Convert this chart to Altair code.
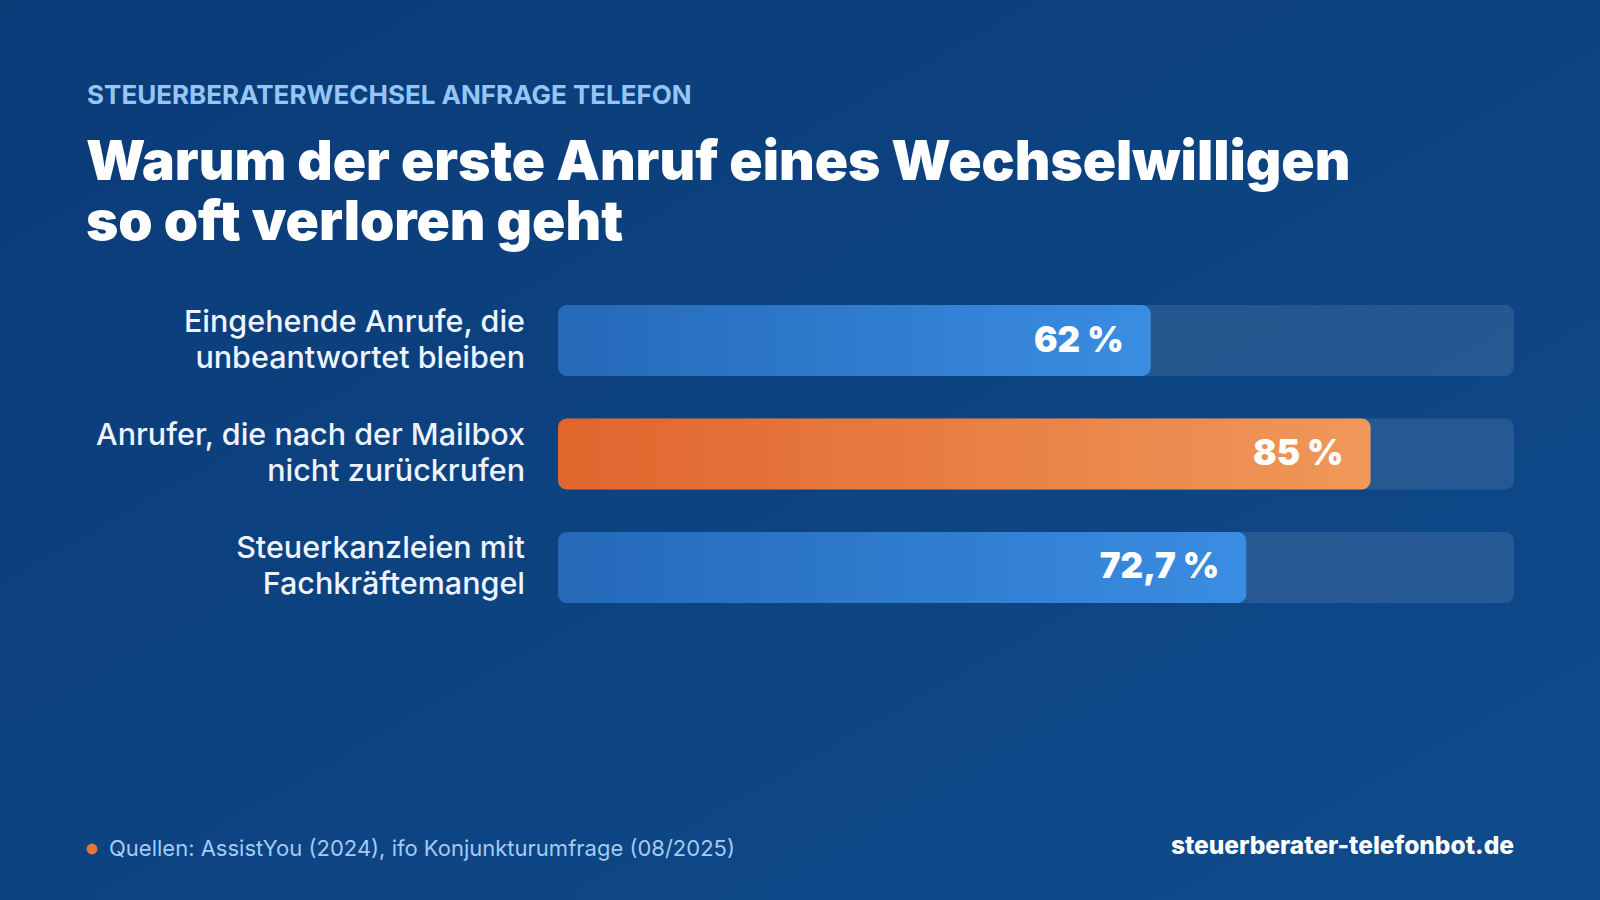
import altair as alt
import pandas as pd

# ---- data ----
categories = [
    "Eingehende Anrufe, die\nunbeantwortet bleiben",
    "Anrufer, die nach der Mailbox\nnicht zurückrufen",
    "Steuerkanzleien mit\nFachkräftemangel",
]
values = [62, 85, 72]          # bar lengths as drawn
value_labels = ["62 %", "85 %", "72,7 %"]
highlight = [False, True, False]

kicker = "STEUERBERATERWECHSEL ANFRAGE TELEFON"
title_lines = ["Warum der erste Anruf eines Wechselwilligen", "so oft verloren geht"]
source_text = "Quellen: AssistYou (2024), ifo Konjunkturumfrage (08/2025)"
site_text = "steuerberater-telefonbot.de"

df = pd.DataFrame({
    "cat": categories,
    "value": values,
    "vlabel": value_labels,
    "hl": highlight,
    "zero": [0] * 3,
    "full": [100] * 3,
})
one = pd.DataFrame({"k": [0]})

FONT = "Inter"
W, H = 1600, 900

xscale = alt.Scale(domain=[0, 100], range=[558, 1514])
yscale = alt.Scale(domain=categories, range=[305, 603], paddingInner=0.374, paddingOuter=0)

X = lambda f: alt.X(f, type="quantitative", scale=xscale, axis=None)
Y = alt.Y("cat:N", sort=categories, scale=yscale, axis=None)

bg = alt.Chart(one).mark_rect(
    fill=alt.Gradient(
        gradient="linear", x1=0, y1=0, x2=1, y2=1,
        stops=[alt.GradientStop(color="#0b3b77", offset=0),
               alt.GradientStop(color="#0f4b8c", offset=1)],
    )
).encode(x=alt.value(0), x2=alt.value(W), y=alt.value(0), y2=alt.value(H))

track = alt.Chart(df).mark_bar(cornerRadius=9, color="#ffffff", opacity=0.1).encode(
    x=X("zero"), x2="full:Q", y=Y
)

blue_bars = alt.Chart(df).transform_filter("!datum.hl").mark_bar(
    cornerRadius=9,
    color=alt.Gradient(
        gradient="linear", x1=0, y1=0, x2=1, y2=0,
        stops=[alt.GradientStop(color="#2569b8", offset=0),
               alt.GradientStop(color="#3a8de2", offset=1)],
    ),
).encode(x=X("zero"), x2="value:Q", y=Y)

orange_bars = alt.Chart(df).transform_filter("datum.hl").mark_bar(
    cornerRadius=9,
    color=alt.Gradient(
        gradient="linear", x1=0, y1=0, x2=1, y2=0,
        stops=[alt.GradientStop(color="#e0652d", offset=0),
               alt.GradientStop(color="#f0985a", offset=1)],
    ),
).encode(x=X("zero"), x2="value:Q", y=Y)

vtext = alt.Chart(df).mark_text(
    align="right", baseline="middle", dx=-27, font=FONT, fontWeight=900,
    fontSize=35, color="#ffffff",
).encode(x=X("value"), y=Y, text="vlabel:N")

ylabels = alt.Chart(df).mark_text(
    align="right", baseline="middle", lineBreak="\n", lineHeight=36, dy=-18,
    font=FONT, fontWeight=500, fontSize=30.5, color="#eef4ff",
).encode(x=alt.value(525), y=Y, text="cat:N")

kicker_t = alt.Chart(one).mark_text(
    text=kicker, align="left", baseline="alphabetic", font=FONT, fontWeight=700,
    fontSize=26, color="#94c6f5",
).encode(x=alt.value(87), y=alt.value(104))

title_t = alt.Chart(one).mark_text(
    text=title_lines, align="left", baseline="alphabetic", font=FONT, fontWeight=900,
    fontSize=55, lineHeight=60, color="#ffffff",
).encode(x=alt.value(86), y=alt.value(180))

dot = alt.Chart(one).mark_circle(size=120, color="#e8743a", opacity=1).encode(
    x=alt.value(92), y=alt.value(849)
)

source_t = alt.Chart(one).mark_text(
    text=source_text, align="left", baseline="middle", font=FONT, fontWeight=400,
    fontSize=22, color="#a3cbf4",
).encode(x=alt.value(109), y=alt.value(849))

site_t = alt.Chart(one).mark_text(
    text=site_text, align="right", baseline="middle", font=FONT, fontWeight=800,
    fontSize=24.5, color="#ffffff",
).encode(x=alt.value(1514), y=alt.value(847))

chart = alt.layer(
    bg, track, blue_bars, orange_bars, vtext, ylabels, kicker_t, title_t, dot, source_t, site_t
).properties(
    width=W, height=H, padding=0, autosize=alt.AutoSizeParams(type="none"),
    background="#0d4280",
).configure_view(stroke=None).resolve_scale(x="shared", y="shared")

chart.save("out.html", embed_options={"renderer": "svg", "actions": False})
